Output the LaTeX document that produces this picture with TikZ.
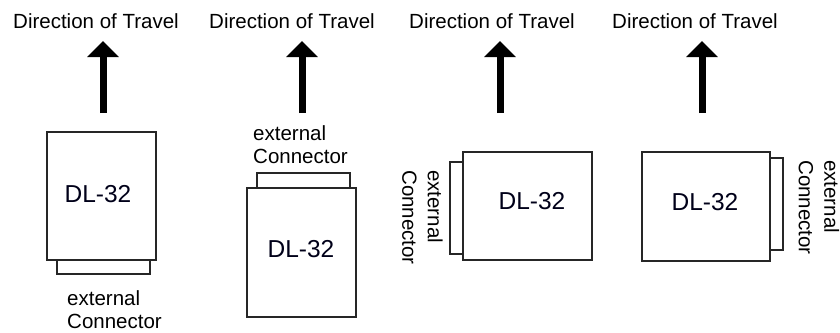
\documentclass[tikz,border=0pt]{standalone}
\usepackage{fontspec}
\setmainfont{Liberation Sans}
\usetikzlibrary{arrows.meta}
\begin{document}
\begin{tikzpicture}[x=1pt,y=-1pt,
  title/.style={font=\fontsize{20.5}{23}\selectfont, inner sep=0pt, anchor=base},
  travel/.style={line width=7pt, -{Triangle[length=16pt,width=31pt]}},
  unit/.style={draw=black!85, line width=1.4pt, inner sep=0pt, outer sep=0pt, fill=white},
  conn/.style={draw=black!85, line width=1.4pt, inner sep=0pt, outer sep=0pt, fill=white},
  dl/.style={font=\fontsize{24.5}{28}\selectfont, inner sep=0pt, text=black!90!blue},
  lbl/.style={font=\fontsize{20.5}{23}\selectfont, inner sep=0pt, align=left, anchor=north west},
  rlbl/.style={font=\fontsize{20.5}{25.5}\selectfont, inner sep=0pt, align=left, anchor=north west, rotate=-90}
]
\useasboundingbox (0,0) rectangle (840,332);

% titles
\node[title] (t1) at (96,28) {Direction of Travel};
\node[title] (t2) at (292,28) {Direction of Travel};
\node[title] (t3) at (492,28) {Direction of Travel};
\node[title] (t4) at (695,28) {Direction of Travel};

% arrows
\coordinate (a1s) at (103,113); \coordinate (a1e) at (103,41);
\coordinate (a2s) at (302,113); \coordinate (a2e) at (302,41);
\coordinate (a3s) at (500,113); \coordinate (a3e) at (500,41);
\coordinate (a4s) at (702,113); \coordinate (a4e) at (702,41);
\draw[travel] (a1s) -- (a1e);
\draw[travel] (a2s) -- (a2e);
\draw[travel] (a3s) -- (a3e);
\draw[travel] (a4s) -- (a4e);

% panel 1: connector below
\node[conn, minimum width=93pt, minimum height=14pt] (c1) at (103.5,267) {};
\node[unit, minimum width=109pt, minimum height=128pt] (b1) at (101.5,196) {};
\node[dl] (d1) at (98,194) {DL-32};
\node[lbl] (l1) at (67,290) {external\\Connector};

% panel 2: connector above
\node[conn, minimum width=93pt, minimum height=15pt] (c2) at (303.5,180.5) {};
\node[unit, minimum width=109pt, minimum height=129pt] (b2) at (301.5,252.5) {};
\node[dl] (d2) at (301,249) {DL-32};
\node[lbl] (l2) at (253,125) {external\\Connector};

% panel 3: connector left
\node[conn, minimum width=13pt, minimum height=92pt] (c3) at (456.5,208) {};
\node[unit, minimum width=129pt, minimum height=108pt] (b3) at (527.5,206) {};
\node[dl] (d3) at (532,201) {DL-32};
\node[rlbl] (l3) at (443,170) {external\\Connector};

% panel 4: connector right
\node[conn, minimum width=13pt, minimum height=92pt] (c4) at (776.5,204) {};
\node[unit, minimum width=128pt, minimum height=109pt] (b4) at (706,206.5) {};
\node[dl] (d4) at (705,202) {DL-32};
\node[rlbl] (l4) at (839.5,160) {external\\Connector};
\end{tikzpicture}
\end{document}
